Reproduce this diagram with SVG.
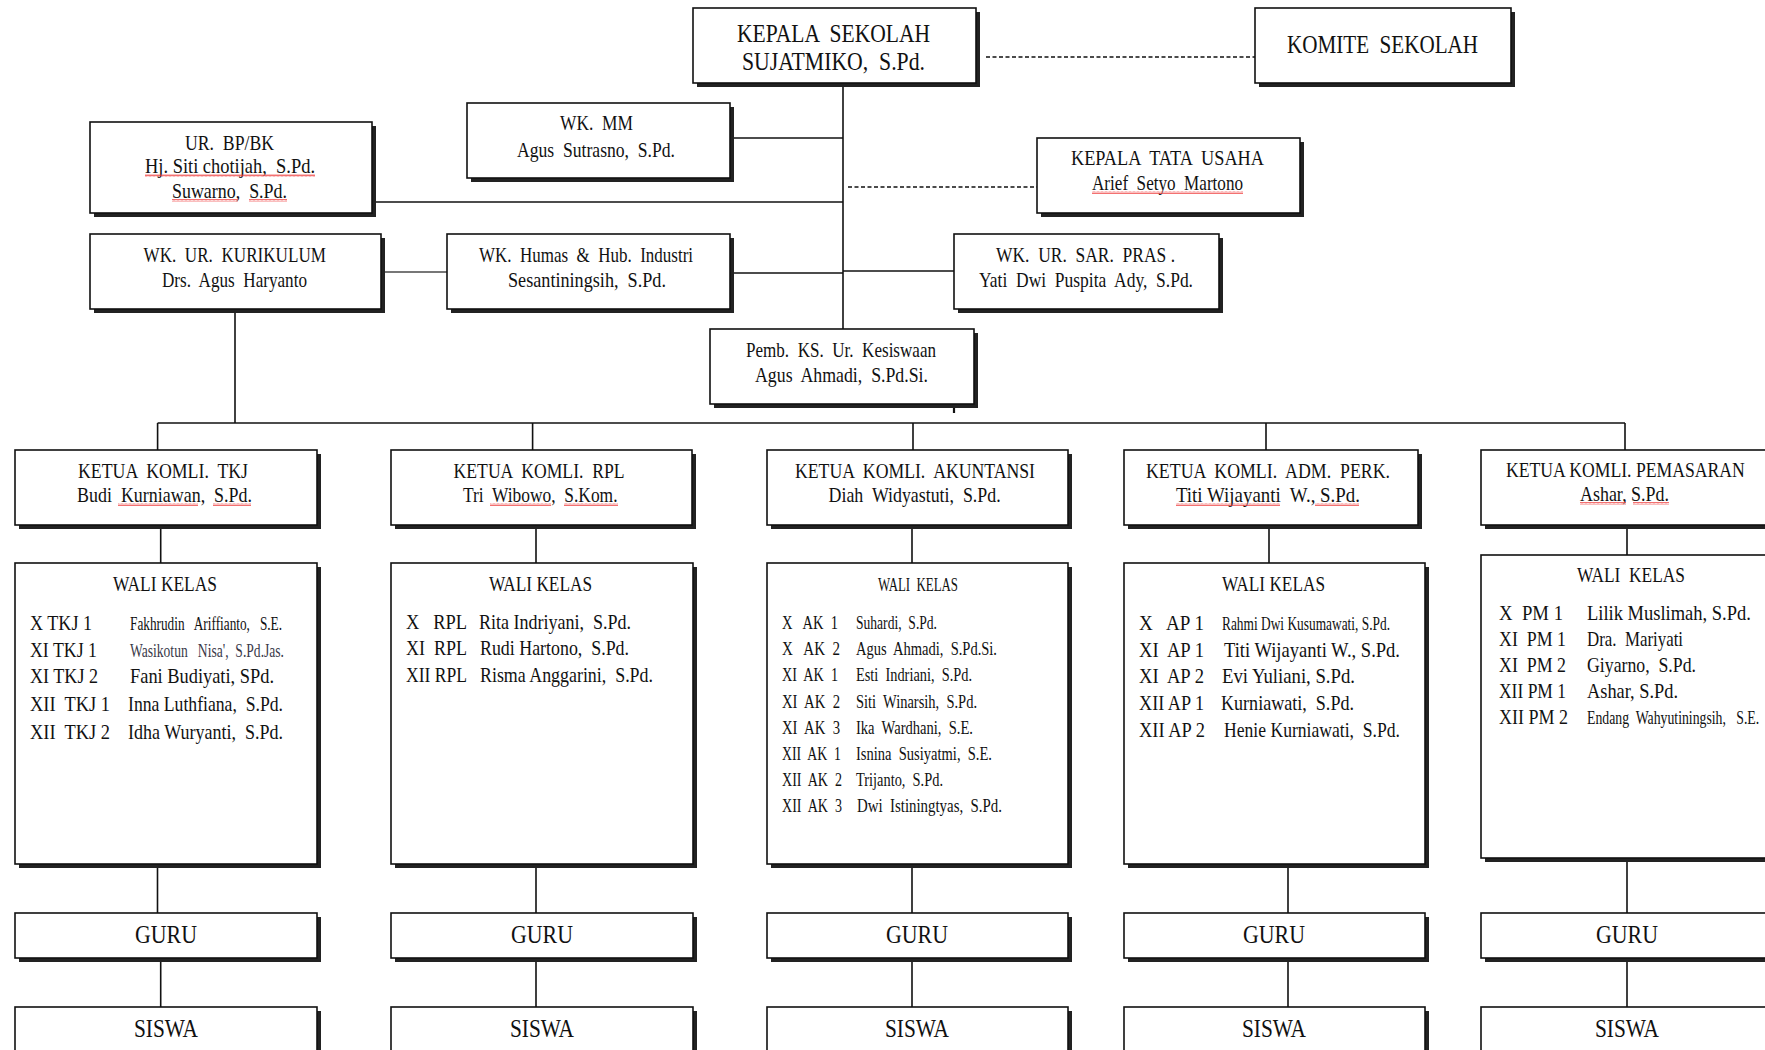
<svg xmlns="http://www.w3.org/2000/svg" width="1765" height="1050" viewBox="0 0 1765 1050">
<defs>
<style>
text{font-family:"Liberation Serif","Times New Roman",serif;fill:#111;white-space:pre}
.f25{font-size:25px}
.f22{font-size:22px}
.f18{font-size:18px}
.bx{fill:#fff;stroke:#111;stroke-width:1.6}
.sh{fill:#222}
.ln{stroke:#111;stroke-width:1.6;fill:none}
.gl{stroke:#777;stroke-width:2.2;fill:none}
.ds{stroke:#111;stroke-width:1.4;stroke-dasharray:4 2.5;fill:none}
.sq{fill:url(#sq)}
</style>
<pattern id="sq" width="4" height="3" patternUnits="userSpaceOnUse"><path d="M0,2.5 L1,0.5 L2,2.5 L3,0.5 L4,2.5" fill="none" stroke="#e33" stroke-width="0.7"/></pattern>
</defs>
<rect width="1765" height="1050" fill="#fff"/>

<g id="connectors">
<path class="ds" d="M986,57 H1255"/>
<path class="ln" d="M843,83 V329"/>
<path class="ln" d="M730,138 H843"/>
<path class="ln" d="M372,202 H843"/>
<path class="ds" d="M848,187 H1037"/>
<path class="gl" d="M381,272 H447"/>
<path class="ln" d="M730,273 H843"/>
<path class="ln" d="M843,271 H954"/>
<path class="ln" d="M954,387 V413" style="stroke-width:2.2"/>
<path class="ln" d="M235,309 V423"/>
<path class="ln" d="M157.6,423 H1625"/>
<path class="ln" d="M157.6,423 V450 M532.6,423 V450 M913,423 V450 M1266,423 V450 M1625,423 V450"/>
<path class="ln" d="M160.7,525 V563 M157.5,864 V913 M160.7,957 V1007"/>
<path class="ln" d="M536,525 V563 M536,864 V913 M536,957 V1007"/>
<path class="ln" d="M912,525 V563 M912,864 V913 M912,957 V1007"/>
<path class="ln" d="M1269,525 V563 M1288,864 V913 M1288,957 V1007"/>
<path class="ln" d="M1627,525 V555 M1627,858 V913 M1627,957 V1007"/>
</g>

<g id="kepala-sekolah">
<rect class="sh" x="697" y="12" width="283" height="75"/><rect class="bx" x="693" y="8" width="283" height="75"/>
<text class="f25" x="737" y="41.5" textLength="193" lengthAdjust="spacingAndGlyphs">KEPALA  SEKOLAH</text>
<text class="f25" x="742" y="70" textLength="183" lengthAdjust="spacingAndGlyphs">SUJATMIKO,  S.Pd.</text>
</g>

<g id="komite-sekolah">
<rect class="sh" x="1259" y="12" width="256" height="75"/><rect class="bx" x="1255" y="8" width="256" height="75"/>
<text class="f25" x="1287" y="53" textLength="191" lengthAdjust="spacingAndGlyphs">KOMITE  SEKOLAH</text>
</g>

<g id="wk-mm">
<rect class="sh" x="471" y="107" width="263" height="75"/><rect class="bx" x="467" y="103" width="263" height="75"/>
<text class="f22" x="560" y="130" textLength="73" lengthAdjust="spacingAndGlyphs">WK.  MM</text>
<text class="f22" x="517" y="157" textLength="158" lengthAdjust="spacingAndGlyphs">Agus  Sutrasno,  S.Pd.</text>
</g>

<g id="ur-bp-bk">
<rect class="sh" x="94" y="126" width="282" height="91"/><rect class="bx" x="90" y="122" width="282" height="91"/>
<text class="f22" x="185" y="150" textLength="89" lengthAdjust="spacingAndGlyphs">UR.  BP/BK</text>
<text class="f22" x="145" y="173" textLength="170" lengthAdjust="spacingAndGlyphs">Hj. Siti chotijah,  S.Pd.</text>
<text class="f22" x="172" y="198" textLength="115" lengthAdjust="spacingAndGlyphs">Suwarno,  S.Pd.</text>
<rect class="sq" x="145" y="174" width="170" height="3"/>
<rect class="sq" x="172" y="199" width="66" height="3"/>
<rect class="sq" x="249" y="199" width="38" height="3"/>
</g>

<g id="kepala-tata-usaha">
<rect class="sh" x="1041" y="142" width="263" height="75"/><rect class="bx" x="1037" y="138" width="263" height="75"/>
<text class="f22" x="1071" y="165" textLength="193" lengthAdjust="spacingAndGlyphs">KEPALA  TATA  USAHA</text>
<text class="f22" x="1092" y="190" textLength="151" lengthAdjust="spacingAndGlyphs">Arief  Setyo  Martono</text>
<rect class="sq" x="1092" y="191" width="151" height="3"/>
</g>

<g id="wk-kurikulum">
<rect class="sh" x="94" y="238" width="291" height="75"/><rect class="bx" x="90" y="234" width="291" height="75"/>
<text class="f22" x="143.5" y="262" textLength="182.5" lengthAdjust="spacingAndGlyphs">WK.  UR.  KURIKULUM</text>
<text class="f22" x="162" y="287" textLength="145" lengthAdjust="spacingAndGlyphs">Drs.  Agus  Haryanto</text>
</g>

<g id="wk-humas">
<rect class="sh" x="451" y="238" width="283" height="75"/><rect class="bx" x="447" y="234" width="283" height="75"/>
<text class="f22" x="479" y="262" textLength="214" lengthAdjust="spacingAndGlyphs">WK.  Humas  &amp;  Hub.  Industri</text>
<text class="f22" x="508" y="287" textLength="158" lengthAdjust="spacingAndGlyphs">Sesantiningsih,  S.Pd.</text>
</g>

<g id="wk-sarpras">
<rect class="sh" x="958" y="238" width="265" height="75"/><rect class="bx" x="954" y="234" width="265" height="75"/>
<text class="f22" x="996" y="262" textLength="179" lengthAdjust="spacingAndGlyphs">WK.  UR.  SAR.  PRAS .</text>
<text class="f22" x="979" y="287" textLength="214" lengthAdjust="spacingAndGlyphs">Yati  Dwi  Puspita  Ady,  S.Pd.</text>
</g>

<g id="pemb-kesiswaan">
<rect class="sh" x="714" y="333" width="264" height="75"/><rect class="bx" x="710" y="329" width="264" height="75"/>
<text class="f22" x="746" y="357" textLength="190" lengthAdjust="spacingAndGlyphs">Pemb.  KS.  Ur.  Kesiswaan</text>
<text class="f22" x="755" y="382" textLength="173" lengthAdjust="spacingAndGlyphs">Agus  Ahmadi,  S.Pd.Si.</text>
</g>

<g id="ketua-tkj">
<rect class="sh" x="19" y="454" width="302" height="75"/><rect class="bx" x="15" y="450" width="302" height="75"/>
<text class="f22" x="78" y="478" textLength="170" lengthAdjust="spacingAndGlyphs">KETUA  KOMLI.  TKJ</text>
<text class="f22" x="77" y="502" textLength="175" lengthAdjust="spacingAndGlyphs">Budi  Kurniawan,  S.Pd.</text>
<rect class="sq" x="118" y="503" width="80" height="3"/>
<rect class="sq" x="213" y="503" width="38" height="3"/>
</g>
<g id="ketua-rpl">
<rect class="sh" x="395" y="454" width="301" height="75"/><rect class="bx" x="391" y="450" width="301" height="75"/>
<text class="f22" x="453.6" y="478" textLength="171" lengthAdjust="spacingAndGlyphs">KETUA  KOMLI.  RPL</text>
<text class="f22" x="463" y="502" textLength="154.5" lengthAdjust="spacingAndGlyphs">Tri  Wibowo,  S.Kom.</text>
<rect class="sq" x="490" y="503" width="61" height="3"/>
<rect class="sq" x="564" y="503" width="54" height="3"/>
</g>
<g id="ketua-akuntansi">
<rect class="sh" x="771" y="454" width="301" height="75"/><rect class="bx" x="767" y="450" width="301" height="75"/>
<text class="f22" x="795" y="478" textLength="240" lengthAdjust="spacingAndGlyphs">KETUA  KOMLI.  AKUNTANSI</text>
<text class="f22" x="828.6" y="502" textLength="172" lengthAdjust="spacingAndGlyphs">Diah  Widyastuti,  S.Pd.</text>
</g>
<g id="ketua-adm-perk">
<rect class="sh" x="1128" y="454" width="294" height="75"/><rect class="bx" x="1124" y="450" width="294" height="75"/>
<text class="f22" x="1146" y="478" textLength="244" lengthAdjust="spacingAndGlyphs">KETUA  KOMLI.  ADM.  PERK.</text>
<text class="f22" x="1176" y="502" textLength="184" lengthAdjust="spacingAndGlyphs">Titi Wijayanti  W., S.Pd.</text>
<rect class="sq" x="1176" y="503" width="104" height="3"/>
<rect class="sq" x="1315" y="503" width="44" height="3"/>
</g>
<g id="ketua-pemasaran">
<rect class="sh" x="1485" y="454" width="292" height="75"/><rect class="bx" x="1481" y="450" width="292" height="75"/>
<text class="f22" transform="translate(1506,477) scale(0.803,1)" x="0" y="0">KETUA KOMLI. PEMASARAN</text>
<text class="f22" x="1580" y="501" textLength="89" lengthAdjust="spacingAndGlyphs">Ashar, S.Pd.</text>
<rect class="sq" x="1580" y="502" width="46" height="3"/>
<rect class="sq" x="1633" y="502" width="36" height="3"/>
</g>

<g id="wali-tkj">
<rect class="sh" x="19" y="567" width="302" height="301"/><rect class="bx" x="15" y="563" width="302" height="301"/>
<text class="f22" x="113" y="591" textLength="104" lengthAdjust="spacingAndGlyphs">WALI KELAS</text>
<text class="f22" x="30" y="630" textLength="62" lengthAdjust="spacingAndGlyphs">X TKJ 1</text>
<text class="f22" x="30" y="657" textLength="67" lengthAdjust="spacingAndGlyphs">XI TKJ 1</text>
<text class="f22" x="30" y="683" textLength="68" lengthAdjust="spacingAndGlyphs">XI TKJ 2</text>
<text class="f22" x="30" y="711" textLength="80" lengthAdjust="spacingAndGlyphs">XII  TKJ 1</text>
<text class="f22" x="30" y="739" textLength="80" lengthAdjust="spacingAndGlyphs">XII  TKJ 2</text>
<text class="f18" x="130" y="630" textLength="152" lengthAdjust="spacingAndGlyphs">Fakhrudin   Ariffianto,   S.E.</text>
<text class="f18" x="130" y="657" textLength="154" lengthAdjust="spacingAndGlyphs" style="fill:#3a3a4a">Wasikotun   Nisa',  S.Pd.Jas.</text>
<text class="f22" x="130" y="683" textLength="144" lengthAdjust="spacingAndGlyphs">Fani Budiyati, SPd.</text>
<text class="f22" x="128" y="711" textLength="155" lengthAdjust="spacingAndGlyphs">Inna Luthfiana,  S.Pd.</text>
<text class="f22" x="128" y="739" textLength="155" lengthAdjust="spacingAndGlyphs">Idha Wuryanti,  S.Pd.</text>
</g>
<g id="wali-rpl">
<rect class="sh" x="395" y="567" width="302" height="301"/><rect class="bx" x="391" y="563" width="302" height="301"/>
<text class="f22" x="489" y="591" textLength="103" lengthAdjust="spacingAndGlyphs">WALI KELAS</text>
<text class="f22" x="406" y="629" textLength="61" lengthAdjust="spacingAndGlyphs">X   RPL</text>
<text class="f22" x="406" y="655" textLength="61" lengthAdjust="spacingAndGlyphs">XI  RPL</text>
<text class="f22" x="406" y="682" textLength="61" lengthAdjust="spacingAndGlyphs">XII RPL</text>
<text class="f22" x="479" y="629" textLength="152" lengthAdjust="spacingAndGlyphs">Rita Indriyani,  S.Pd.</text>
<text class="f22" x="480" y="655" textLength="149" lengthAdjust="spacingAndGlyphs">Rudi Hartono,  S.Pd.</text>
<text class="f22" x="480" y="682" textLength="173" lengthAdjust="spacingAndGlyphs">Risma Anggarini,  S.Pd.</text>
</g>
<g id="wali-ak">
<rect class="sh" x="771" y="567" width="301" height="301"/><rect class="bx" x="767" y="563" width="301" height="301"/>
<text class="f18" x="878" y="591" textLength="80" lengthAdjust="spacingAndGlyphs">WALI  KELAS</text>
<text class="f18" x="782" y="629" textLength="56" lengthAdjust="spacingAndGlyphs">X   AK  1</text>
<text class="f18" x="782" y="655.2" textLength="58" lengthAdjust="spacingAndGlyphs">X   AK  2</text>
<text class="f18" x="782" y="681.4" textLength="56" lengthAdjust="spacingAndGlyphs">XI  AK  1</text>
<text class="f18" x="782" y="707.6" textLength="58" lengthAdjust="spacingAndGlyphs">XI  AK  2</text>
<text class="f18" x="782" y="733.8" textLength="58" lengthAdjust="spacingAndGlyphs">XI  AK  3</text>
<text class="f18" x="782" y="760" textLength="59" lengthAdjust="spacingAndGlyphs">XII  AK  1</text>
<text class="f18" x="782" y="786.2" textLength="60" lengthAdjust="spacingAndGlyphs">XII  AK  2</text>
<text class="f18" x="782" y="812.4" textLength="60" lengthAdjust="spacingAndGlyphs">XII  AK  3</text>
<text class="f18" x="856" y="629" textLength="81" lengthAdjust="spacingAndGlyphs">Suhardi,  S.Pd.</text>
<text class="f18" x="856" y="655.2" textLength="141" lengthAdjust="spacingAndGlyphs">Agus  Ahmadi,  S.Pd.Si.</text>
<text class="f18" x="856" y="681.4" textLength="116" lengthAdjust="spacingAndGlyphs">Esti  Indriani,  S.Pd.</text>
<text class="f18" x="856" y="707.6" textLength="121" lengthAdjust="spacingAndGlyphs">Siti  Winarsih,  S.Pd.</text>
<text class="f18" x="856" y="733.8" textLength="117" lengthAdjust="spacingAndGlyphs">Ika  Wardhani,  S.E.</text>
<text class="f18" x="856" y="760" textLength="136" lengthAdjust="spacingAndGlyphs">Isnina  Susiyatmi,  S.E.</text>
<text class="f18" x="856" y="786.2" textLength="87" lengthAdjust="spacingAndGlyphs">Trijanto,  S.Pd.</text>
<text class="f18" x="857" y="812.4" textLength="145" lengthAdjust="spacingAndGlyphs">Dwi  Istiningtyas,  S.Pd.</text>
</g>
<g id="wali-ap">
<rect class="sh" x="1128" y="567" width="301" height="301"/><rect class="bx" x="1124" y="563" width="301" height="301"/>
<text class="f22" x="1222" y="591" textLength="103" lengthAdjust="spacingAndGlyphs">WALI KELAS</text>
<text class="f22" x="1139" y="630" textLength="65" lengthAdjust="spacingAndGlyphs">X   AP 1</text>
<text class="f22" x="1139" y="657" textLength="65" lengthAdjust="spacingAndGlyphs">XI  AP 1</text>
<text class="f22" x="1139" y="683" textLength="65" lengthAdjust="spacingAndGlyphs">XI  AP 2</text>
<text class="f22" x="1139" y="710" textLength="65" lengthAdjust="spacingAndGlyphs">XII AP 1</text>
<text class="f22" x="1139" y="737" textLength="66" lengthAdjust="spacingAndGlyphs">XII AP 2</text>
<text class="f18" x="1222" y="630" textLength="168" lengthAdjust="spacingAndGlyphs">Rahmi Dwi Kusumawati, S.Pd.</text>
<text class="f22" x="1224" y="657" textLength="176" lengthAdjust="spacingAndGlyphs">Titi Wijayanti W., S.Pd.</text>
<text class="f22" x="1222" y="683" textLength="133" lengthAdjust="spacingAndGlyphs">Evi Yuliani, S.Pd.</text>
<text class="f22" x="1221" y="710" textLength="133" lengthAdjust="spacingAndGlyphs">Kurniawati,  S.Pd.</text>
<text class="f22" x="1224" y="737" textLength="176" lengthAdjust="spacingAndGlyphs">Henie Kurniawati,  S.Pd.</text>
</g>
<g id="wali-pm">
<rect class="sh" x="1485" y="559" width="292" height="303"/><rect class="bx" x="1481" y="555" width="292" height="303"/>
<text class="f22" x="1577" y="582" textLength="108" lengthAdjust="spacingAndGlyphs">WALI  KELAS</text>
<text class="f22" x="1499" y="620" textLength="64" lengthAdjust="spacingAndGlyphs">X  PM 1</text>
<text class="f22" x="1499" y="646" textLength="67" lengthAdjust="spacingAndGlyphs">XI  PM 1</text>
<text class="f22" x="1499" y="672" textLength="67" lengthAdjust="spacingAndGlyphs">XI  PM 2</text>
<text class="f22" x="1499" y="698" textLength="67" lengthAdjust="spacingAndGlyphs">XII PM 1</text>
<text class="f22" x="1499" y="724" textLength="69" lengthAdjust="spacingAndGlyphs">XII PM 2</text>
<text class="f22" transform="translate(1587,620) scale(0.841,1)" x="0" y="0">Lilik Muslimah, S.Pd.</text>
<text class="f22" x="1587" y="646" textLength="96" lengthAdjust="spacingAndGlyphs">Dra.  Mariyati</text>
<text class="f22" x="1587" y="672" textLength="109" lengthAdjust="spacingAndGlyphs">Giyarno,  S.Pd.</text>
<text class="f22" x="1587" y="698" textLength="91" lengthAdjust="spacingAndGlyphs">Ashar, S.Pd.</text>
<text class="f18" transform="translate(1587,724) scale(0.765,1)" x="0" y="0">Endang  Wahyutiningsih,   S.E.</text>
</g>

<g id="guru-tkj"><rect class="sh" x="19" y="917" width="302" height="45"/><rect class="bx" x="15" y="913" width="302" height="45"/>
<text class="f25" x="166" y="943" text-anchor="middle" textLength="62" lengthAdjust="spacingAndGlyphs">GURU</text></g>
<g id="guru-rpl"><rect class="sh" x="395" y="917" width="302" height="45"/><rect class="bx" x="391" y="913" width="302" height="45"/>
<text class="f25" x="542" y="943" text-anchor="middle" textLength="62" lengthAdjust="spacingAndGlyphs">GURU</text></g>
<g id="guru-ak"><rect class="sh" x="771" y="917" width="301" height="45"/><rect class="bx" x="767" y="913" width="301" height="45"/>
<text class="f25" x="917" y="943" text-anchor="middle" textLength="62" lengthAdjust="spacingAndGlyphs">GURU</text></g>
<g id="guru-ap"><rect class="sh" x="1128" y="917" width="301" height="45"/><rect class="bx" x="1124" y="913" width="301" height="45"/>
<text class="f25" x="1274" y="943" text-anchor="middle" textLength="62" lengthAdjust="spacingAndGlyphs">GURU</text></g>
<g id="guru-pm"><rect class="sh" x="1485" y="917" width="292" height="45"/><rect class="bx" x="1481" y="913" width="292" height="45"/>
<text class="f25" x="1627" y="943" text-anchor="middle" textLength="62" lengthAdjust="spacingAndGlyphs">GURU</text></g>

<g id="siswa-tkj"><rect class="sh" x="19" y="1011" width="302" height="60"/><rect class="bx" x="15" y="1007" width="302" height="60"/>
<text class="f25" x="166" y="1037" text-anchor="middle" textLength="64" lengthAdjust="spacingAndGlyphs">SISWA</text></g>
<g id="siswa-rpl"><rect class="sh" x="395" y="1011" width="302" height="60"/><rect class="bx" x="391" y="1007" width="302" height="60"/>
<text class="f25" x="542" y="1037" text-anchor="middle" textLength="64" lengthAdjust="spacingAndGlyphs">SISWA</text></g>
<g id="siswa-ak"><rect class="sh" x="771" y="1011" width="301" height="60"/><rect class="bx" x="767" y="1007" width="301" height="60"/>
<text class="f25" x="917" y="1037" text-anchor="middle" textLength="64" lengthAdjust="spacingAndGlyphs">SISWA</text></g>
<g id="siswa-ap"><rect class="sh" x="1128" y="1011" width="301" height="60"/><rect class="bx" x="1124" y="1007" width="301" height="60"/>
<text class="f25" x="1274" y="1037" text-anchor="middle" textLength="64" lengthAdjust="spacingAndGlyphs">SISWA</text></g>
<g id="siswa-pm"><rect class="sh" x="1485" y="1011" width="292" height="60"/><rect class="bx" x="1481" y="1007" width="292" height="60"/>
<text class="f25" x="1627" y="1037" text-anchor="middle" textLength="64" lengthAdjust="spacingAndGlyphs">SISWA</text></g>
</svg>
